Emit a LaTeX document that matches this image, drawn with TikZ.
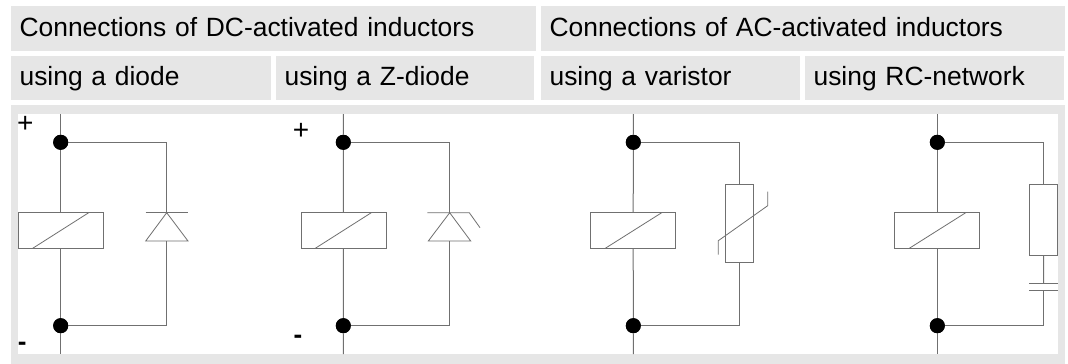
\documentclass[tikz,border=0pt]{standalone}
\usepackage{fontspec}
\setmainfont{Liberation Sans}
\definecolor{panel}{HTML}{E6E6E6}
\definecolor{wire}{HTML}{707070}
\tikzset{
  x=1pt,y=-1pt,
  cell/.style={fill=panel,anchor=north west,inner ysep=0pt,inner xsep=8.4pt,
    font=\fontsize{26.4}{26.4}\selectfont,align=left,text=black,
    text height=30pt,text depth=15pt},
  wireline/.style={draw=wire,line width=1pt},
  thinline/.style={draw=wire,line width=0.8pt},
  dot/.style={circle,fill=black,inner sep=0pt,minimum size=15pt},
  coil/.style={rectangle,wireline,fill=white,inner sep=0pt,minimum width=85pt,minimum height=35.6pt},
  resbox/.style={rectangle,wireline,fill=white,inner sep=0pt,minimum width=28.4pt},
  sign/.style={inner sep=0pt,font=\fontsize{28}{28}\selectfont,text=black},
  minussign/.style={inner sep=0pt,font=\bfseries\fontsize{26}{26}\selectfont,text=black}
}
\begin{document}
\begin{tikzpicture}
\useasboundingbox (0,0) rectangle (1068,364);
\fill[white] (0,0) rectangle (1068,364);
% header cells
\node[cell,text width=507.6pt] (h1) at (11,6) {Connections of DC-activated inductors};
\node[cell,text width=507.2pt] (h2) at (541,6) {Connections of AC-activated inductors};
\node[cell,text width=243.2pt,text height=29pt] (s1) at (11,56) {using a diode};
\node[cell,text width=241.2pt,text height=29pt] (s2) at (276,56) {using a Z-diode};
\node[cell,text width=242.2pt,text height=29pt] (s3) at (541,56) {using a varistor};
\node[cell,text width=242.2pt,text height=29pt] (s4) at (805,56) {using RC-network};
% panel
\fill[panel] (11,105) rectangle (1065,364);
\fill[white] (18,113.5) rectangle (1058,354);
% circuit 1
\coordinate (a1) at (60.7,114);
\coordinate (b1) at (60.7,354);
\node[dot] (p1) at (60.7,142.3) {};
\node[dot] (q1) at (60.7,325.7) {};
\node[coil] (c1) at (60.7,230.5) {};
\draw[thinline] (32.7,248.3) -- (88.7,212.7);
\draw[wireline] (a1) -- (p1) -- (c1) -- (q1) -- (b1);
\coordinate (t1) at (166.7,212.7);
\coordinate (u1) at (166.7,241);
\draw[wireline] (p1.center) -| (t1);
\draw[wireline] (q1.center) -| (u1);
\draw[thinline] (145.7,212.7) -- (188,212.7);
\draw[thinline] (t1) -- (145.7,241) -- (188,241) -- cycle;
\node[sign] (plus1) at (25.3,124) {+};
\node[minussign] (minus1) at (22.3,346) {-};
% circuit 2
\coordinate (a2) at (343.3,114);
\coordinate (b2) at (343.3,354);
\node[dot] (p2) at (343.3,142.3) {};
\node[dot] (q2) at (343.3,325.7) {};
\node[coil] (c2) at (343.5,230.5) {};
\draw[thinline] (315.3,248.3) -- (371.3,212.7);
\draw[wireline] (a2) -- (p2) -- (c2) -- (q2) -- (b2);
\coordinate (t2) at (449.7,212.7);
\coordinate (u2) at (449.7,241);
\draw[wireline] (p2.center) -| (t2);
\draw[wireline] (q2.center) -| (u2);
\draw[thinline] (427.3,212.7) -- (469.3,212.7) -- (480,227.7);
\draw[thinline] (t2) -- (428.3,241) -- (470.7,241) -- cycle;
\node[sign] (plus2) at (301,131) {+};
\node[minussign] (minus2) at (298,339.7) {-};
% circuit 3
\coordinate (a3) at (633.3,114);
\coordinate (b3) at (633.3,354);
\node[dot] (p3) at (633.3,142.3) {};
\node[dot] (q3) at (633.3,325.7) {};
\node[coil] (c3) at (633.2,230.5) {};
\draw[thinline] (605.3,248.3) -- (661.7,212.7);
\draw[wireline] (a3) -- (p3) -- (c3) -- (q3) -- (b3);
\node[resbox,minimum height=78pt] (r3) at (739.5,223.3) {};
\draw[wireline] (p3.center) -| (r3.north);
\draw[wireline] (q3.center) -| (r3.south);
\draw[thinline] (718.3,254.7) -- (718.3,240.7) -- (767.7,205.7) -- (767.7,191.7);
% circuit 4
\coordinate (a4) at (937.3,114);
\coordinate (b4) at (937.3,354);
\node[dot] (p4) at (937.3,142.3) {};
\node[dot] (q4) at (937.3,325.7) {};
\node[coil] (c4) at (937.3,230.5) {};
\draw[thinline] (909.3,248.3) -- (965.7,212.7);
\draw[wireline] (a4) -- (p4) -- (c4) -- (q4) -- (b4);
\node[resbox,minimum height=71pt] (r4) at (1043.5,219.8) {};
\coordinate (k1) at (1043.7,283);
\coordinate (k2) at (1043.7,290.3);
\draw[wireline] (p4.center) -| (r4.north);
\draw[wireline] (r4.south) -- (k1);
\draw[wireline] (q4.center) -| (k2);
\draw[thinline] (1029.3,283) -- (1057.7,283);
\draw[thinline] (1029.3,290.3) -- (1057.7,290.3);
% dots above wires
\foreach \n in {p1,q1,p2,q2,p3,q3,p4,q4} \fill[black] (\n) circle (7.5pt);
\end{tikzpicture}
\end{document}
